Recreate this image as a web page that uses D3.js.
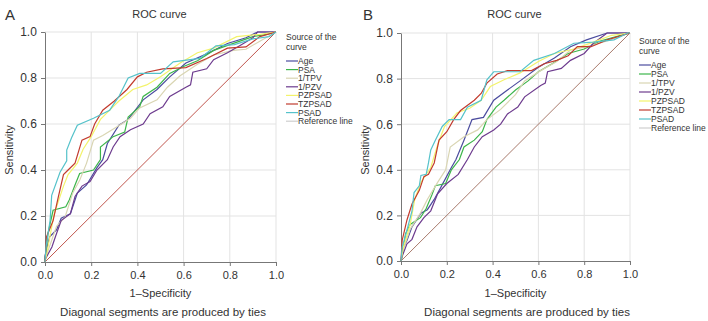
<!DOCTYPE html>
<html lang="en">
<head>
<meta charset="UTF-8" />
<title>ROC curves</title>
<script src="https://d3js.org/d3.v7.min.js"></script>
<style>
  body { margin: 0; background: #fff; }
  svg text { font-family: "Liberation Sans", Arial, sans-serif; fill: #333; }
  .grid line { stroke: #e3e3e3; stroke-width: 1; }
  .axis path, .axis line { stroke: #777; }
  .curve { fill: none; stroke-width: 1.2; }
</style>
</head>
<body>
<div id="chart"></div>
<script>
// series names and colours, legend order
const seriesNames = ['Age', 'PSA', '1/TPV', '1/PZV', 'PZPSAD', 'TZPSAD', 'PSAD'];
const seriesColors = ['#4b4c9e', '#3cb54a', '#d9d5b2', '#6d3b8e', '#f3f36b', '#c23b2e', '#55c2ca'];
const tickValues = [0, 0.2, 0.4, 0.6, 0.8, 1.0];

// panel A curves, [1-specificity, sensitivity]
const ageA = [[0,0],[0,0.025],[0.02,0.11],[0.05,0.14],[0.07,0.19],[0.11,0.21],[0.14,0.3],[0.18,0.335],[0.225,0.41],[0.25,0.445],[0.27,0.515],[0.32,0.595],[0.36,0.62],[0.425,0.705],[0.485,0.75],[0.54,0.805],[0.61,0.865],[0.7,0.905],[0.79,0.95],[0.87,0.975],[0.92,1],[1,1]];
const psaA = [[0,0],[0,0.01],[0.013,0.125],[0.035,0.225],[0.09,0.24],[0.105,0.27],[0.13,0.335],[0.15,0.385],[0.21,0.4],[0.24,0.445],[0.24,0.5],[0.295,0.545],[0.345,0.565],[0.36,0.63],[0.41,0.675],[0.425,0.72],[0.485,0.76],[0.54,0.82],[0.6,0.85],[0.66,0.875],[0.73,0.92],[0.8,0.945],[0.9,0.98],[0.96,0.99],[1,1]];
const tpvA = [[0,0],[0.01,0.04],[0.05,0.155],[0.087,0.196],[0.12,0.3],[0.15,0.355],[0.18,0.43],[0.21,0.53],[0.25,0.55],[0.31,0.587],[0.37,0.625],[0.41,0.67],[0.485,0.705],[0.53,0.76],[0.585,0.81],[0.66,0.86],[0.73,0.9],[0.815,0.92],[0.87,0.925],[0.93,0.96],[1,1]];
const pzvA = [[0,0],[0,0.01],[0.03,0.065],[0.045,0.11],[0.07,0.18],[0.11,0.21],[0.13,0.285],[0.16,0.33],[0.195,0.35],[0.225,0.4],[0.27,0.445],[0.295,0.5],[0.325,0.545],[0.37,0.575],[0.425,0.6],[0.455,0.645],[0.51,0.675],[0.54,0.72],[0.61,0.76],[0.63,0.77],[0.64,0.825],[0.7,0.84],[0.73,0.88],[0.79,0.91],[0.85,0.945],[0.9,0.975],[0.92,1],[1,1]];
const pzpsadA = [[0,0],[0.01,0.05],[0.04,0.21],[0.08,0.33],[0.1,0.38],[0.14,0.43],[0.165,0.49],[0.2,0.545],[0.24,0.62],[0.29,0.67],[0.32,0.7],[0.38,0.75],[0.44,0.77],[0.5,0.805],[0.585,0.865],[0.66,0.91],[0.73,0.93],[0.83,0.98],[0.93,0.99],[1,1]];
const tzpsadA = [[0,0],[0.007,0.11],[0.035,0.18],[0.057,0.28],[0.08,0.38],[0.1,0.4],[0.13,0.43],[0.16,0.53],[0.195,0.545],[0.215,0.6],[0.25,0.66],[0.3,0.7],[0.355,0.75],[0.4,0.805],[0.44,0.825],[0.51,0.84],[0.61,0.845],[0.7,0.885],[0.79,0.93],[0.87,0.935],[0.93,0.98],[1,1]];
const psadA = [[0,0],[0.005,0.07],[0.022,0.18],[0.029,0.29],[0.065,0.39],[0.094,0.44],[0.094,0.487],[0.115,0.54],[0.14,0.595],[0.21,0.625],[0.28,0.66],[0.32,0.72],[0.36,0.8],[0.41,0.82],[0.5,0.82],[0.555,0.87],[0.67,0.885],[0.74,0.94],[0.82,0.945],[0.9,0.97],[0.97,0.98],[1,1]];

// panel B curves
const ageB = [[0,0],[0.005,0.05],[0.026,0.09],[0.048,0.15],[0.087,0.21],[0.115,0.225],[0.145,0.27],[0.175,0.325],[0.22,0.41],[0.24,0.445],[0.275,0.53],[0.31,0.62],[0.36,0.63],[0.405,0.705],[0.465,0.75],[0.52,0.79],[0.6,0.85],[0.67,0.89],[0.74,0.94],[0.81,0.97],[0.9,1],[1,1]];
const psaB = [[0,0],[0.005,0.02],[0.02,0.12],[0.04,0.16],[0.085,0.19],[0.11,0.23],[0.135,0.29],[0.15,0.33],[0.195,0.34],[0.22,0.4],[0.255,0.445],[0.275,0.5],[0.32,0.53],[0.355,0.567],[0.375,0.62],[0.415,0.675],[0.45,0.705],[0.5,0.75],[0.555,0.79],[0.6,0.83],[0.66,0.865],[0.73,0.91],[0.8,0.93],[0.87,0.965],[0.96,0.99],[1,1]];
const tpvB = [[0,0],[0.01,0.05],[0.04,0.14],[0.085,0.21],[0.115,0.27],[0.16,0.345],[0.195,0.4],[0.215,0.5],[0.275,0.545],[0.335,0.575],[0.375,0.62],[0.435,0.665],[0.5,0.73],[0.54,0.79],[0.61,0.835],[0.68,0.875],[0.74,0.925],[0.81,0.94],[0.9,0.965],[1,1]];
const pzvB = [[0,0],[0.005,0.02],[0.026,0.075],[0.048,0.095],[0.07,0.15],[0.1,0.19],[0.13,0.22],[0.16,0.295],[0.2,0.34],[0.25,0.38],[0.29,0.445],[0.32,0.5],[0.355,0.545],[0.405,0.575],[0.435,0.6],[0.465,0.645],[0.51,0.675],[0.54,0.72],[0.61,0.77],[0.63,0.78],[0.64,0.83],[0.7,0.845],[0.74,0.88],[0.8,0.91],[0.84,0.955],[0.9,1],[1,1]];
const pzpsadB = [[0,0],[0.01,0.06],[0.04,0.16],[0.06,0.27],[0.087,0.345],[0.13,0.41],[0.16,0.51],[0.19,0.59],[0.245,0.65],[0.3,0.67],[0.35,0.705],[0.39,0.765],[0.45,0.795],[0.52,0.825],[0.6,0.875],[0.67,0.91],[0.755,0.93],[0.84,0.96],[0.92,0.99],[1,1]];
const tzpsadB = [[0,0],[0.005,0.09],[0.026,0.18],[0.048,0.25],[0.08,0.31],[0.1,0.37],[0.12,0.38],[0.145,0.43],[0.166,0.53],[0.2,0.567],[0.23,0.62],[0.26,0.66],[0.32,0.705],[0.35,0.735],[0.375,0.78],[0.42,0.82],[0.465,0.835],[0.57,0.835],[0.625,0.865],[0.68,0.88],[0.73,0.9],[0.77,0.94],[0.83,0.94],[0.9,0.97],[1,1]];
const psadB = [[0,0],[0.005,0.06],[0.026,0.135],[0.048,0.22],[0.057,0.3],[0.08,0.33],[0.087,0.375],[0.11,0.38],[0.12,0.43],[0.13,0.487],[0.15,0.53],[0.18,0.59],[0.21,0.62],[0.26,0.62],[0.29,0.675],[0.35,0.705],[0.375,0.795],[0.405,0.83],[0.52,0.83],[0.58,0.88],[0.67,0.91],[0.755,0.955],[0.84,0.96],[0.93,0.97],[0.99,1],[1,1]];

const curvesA = [ageA, psaA, tpvA, pzvA, pzpsadA, tzpsadA, psadA];
const curvesB = [ageB, psaB, tpvB, pzvB, pzpsadB, tzpsadB, psadB];

const svg = d3.select('#chart').append('svg')
    .attr('width', 708)
    .attr('height', 321);

const panels = [
    { letter: 'A', curves: curvesA, left: 45, right: 276, top: 32, bottom: 262, refColor: '#c0564e',
      lx: 286, legTop: 40, legStep: 8.6, textMid: 163 },
    { letter: 'B', curves: curvesB, left: 401, right: 630, top: 33, bottom: 261, refColor: '#a87a6c',
      lx: 639, legTop: 44, legStep: 9, textMid: 527 }
];

panels.forEach(p => {
    const x = d3.scaleLinear().domain([0, 1]).range([p.left, p.right]);
    const y = d3.scaleLinear().domain([0, 1]).range([p.bottom, p.top]);
    const g = svg.append('g');

    // grid
    const grid = g.append('g').attr('class', 'grid');
    grid.selectAll('.gx').data(tickValues.slice(1)).enter().append('line')
        .attr('x1', d => x(d)).attr('x2', d => x(d))
        .attr('y1', y(0)).attr('y2', y(1));
    grid.selectAll('.gy').data(tickValues.slice(1)).enter().append('line')
        .attr('x1', x(0)).attr('x2', x(1))
        .attr('y1', d => y(d)).attr('y2', d => y(d));

    // axes
    g.append('g').attr('class', 'axis')
        .attr('transform', `translate(0,${p.bottom})`)
        .call(d3.axisBottom(x).tickValues(tickValues).tickFormat(d3.format('.1f')).tickSize(4).tickSizeOuter(0))
        .call(a => a.selectAll('text').attr('font-size', 11).attr('dy', '0.9em'));
    g.append('g').attr('class', 'axis')
        .attr('transform', `translate(${p.left},0)`)
        .call(d3.axisLeft(y).tickValues(tickValues).tickFormat(d3.format('.1f')).tickSize(4).tickSizeOuter(0))
        .call(a => a.selectAll('text').attr('font-size', 12).attr('dx', '-0.1em'));
    g.selectAll('.axis text').attr('fill', '#333').attr('font-family', '"Liberation Sans", Arial, sans-serif');

    // reference diagonal
    g.append('line')
        .attr('x1', x(0)).attr('y1', y(0))
        .attr('x2', x(1)).attr('y2', y(1))
        .attr('stroke', p.refColor).attr('stroke-width', 1);

    // curves
    const line = d3.line().x(d => x(d[0])).y(d => y(d[1]));
    g.selectAll('.curve').data(p.curves).enter().append('path')
        .attr('class', 'curve')
        .attr('d', line)
        .attr('stroke', (d, i) => seriesColors[i]);

    // titles
    svg.append('text').attr('x', p.letter === 'A' ? 5 : 363).attr('y', 20)
        .attr('font-size', 15).text(p.letter);
    svg.append('text').attr('x', (p.left + p.right) / 2 - 1).attr('y', 18)
        .attr('text-anchor', 'middle').attr('font-size', 11).text('ROC curve');
    svg.append('text').attr('x', (p.left + p.right) / 2).attr('y', 297)
        .attr('text-anchor', 'middle').attr('font-size', 11).text('1–Specificity');
    svg.append('text').attr('x', p.textMid).attr('y', 316)
        .attr('text-anchor', 'middle').attr('font-size', 11.5).text('Diagonal segments are produced by ties');
    svg.append('text')
        .attr('transform', `translate(${p.left - 32},${(p.top + p.bottom) / 2 + 3}) rotate(-90)`)
        .attr('text-anchor', 'middle').attr('font-size', 11).text('Sensitivity');

    // legend
    const leg = svg.append('g');
    leg.append('text').attr('x', p.lx).attr('y', p.legTop).attr('font-size', 8.5).text('Source of the');
    leg.append('text').attr('x', p.lx).attr('y', p.legTop + 9.5).attr('font-size', 8.5).text('curve');
    const names = seriesNames.concat(['Reference line']);
    const colors = seriesColors.concat(['#cfcfcf']);
    const item = leg.selectAll('.item').data(names).enter().append('g')
        .attr('transform', (d, i) => `translate(${p.lx},${p.legTop + 21 + i * p.legStep})`);
    item.append('line').attr('x1', 0).attr('x2', 12).attr('y1', 0).attr('y2', 0)
        .attr('stroke', (d, i) => colors[i]).attr('stroke-width', 1.2);
    item.append('text').attr('x', 12).attr('y', 3).attr('font-size', 8.5).text(d => d);
});
</script>
</body>
</html>
